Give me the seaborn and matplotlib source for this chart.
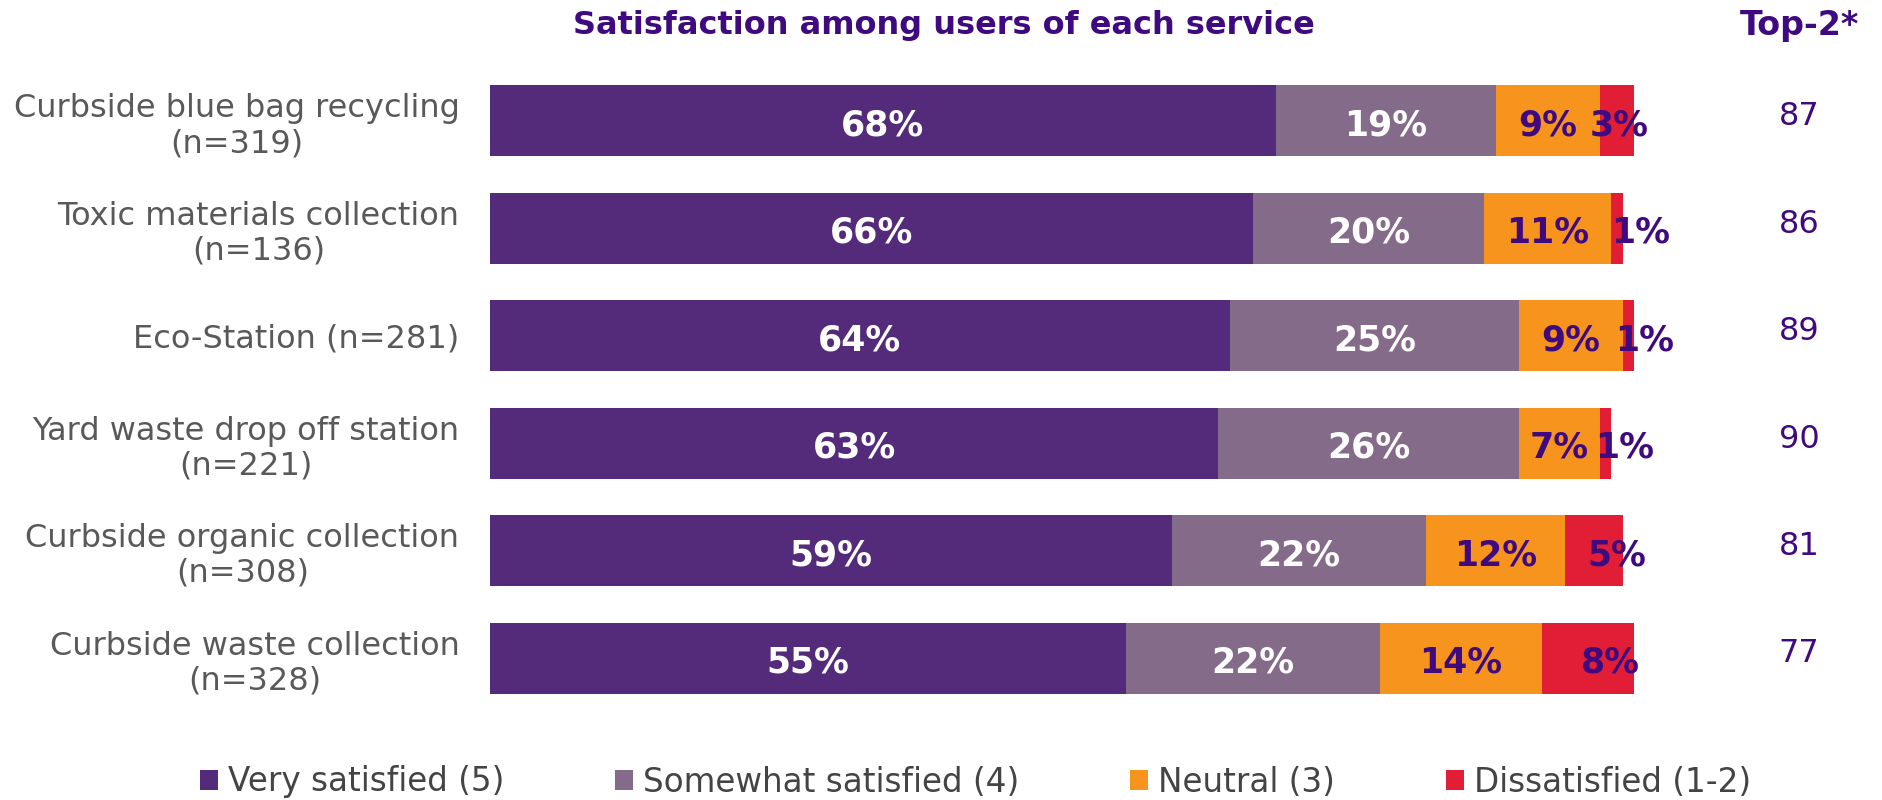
import numpy as np
import pandas as pd
import matplotlib
matplotlib.use("Agg")
import matplotlib.pyplot as plt
from matplotlib.patches import Patch
import seaborn as sns

# ---- data -------------------------------------------------------------
services = [
    "Curbside blue bag recycling\n(n=319)",
    "Toxic materials collection\n(n=136)",
    "Eco-Station (n=281)",
    "Yard waste drop off station\n(n=221)",
    "Curbside organic collection\n(n=308)",
    "Curbside waste collection\n(n=328)",
]
very_satisfied = [68, 66, 64, 63, 59, 55]
somewhat_satisfied = [19, 20, 25, 26, 22, 22]
neutral = [9, 11, 9, 7, 12, 14]
dissatisfied = [3, 1, 1, 1, 5, 8]
top2 = [87, 86, 89, 90, 81, 77]

legend_labels = ["Very satisfied (5)", "Somewhat satisfied (4)",
                 "Neutral (3)", "Dissatisfied (1-2)"]

# ---- style ------------------------------------------------------------
sns.set_style("white")
plt.rcParams["font.family"] = ["DejaVu Sans"]

colors = ["#542B7B", "#846B8A", "#F7941D", "#E21E36"]
label_colors = ["white", "white", "#3F0A7F", "#3F0A7F"]
purple_text = "#3F0A7F"
gray_text = "#595959"

df = pd.DataFrame({
    "service": services,
    "very": very_satisfied,
    "somewhat": somewhat_satisfied,
    "neutral": neutral,
    "dissat": dissatisfied,
})
parts = ["very", "somewhat", "neutral", "dissat"]
cum = df[parts].cumsum(axis=1)

fig = plt.figure(figsize=(18.83, 8.0), dpi=100)
ax = fig.add_axes([0.2602, 0.11, 0.6139, 0.806])

# stacked bars: draw cumulative totals from the largest down
for part, col in reversed(list(zip(parts, colors))):
    sns.barplot(x=cum[part], y=df["service"], orient="h", color=col,
                saturation=1, width=0.66, edgecolor="none", ax=ax)

ax.set_xlim(0, 100)
ax.set_ylim(5.5, -0.5)
ax.set_xlabel("")
ax.set_ylabel("")
ax.set_xticks([])
sns.despine(ax=ax, left=True, bottom=True)
ax.tick_params(axis="y", length=0, pad=22)
for lbl in ax.get_yticklabels():
    lbl.set_fontsize(23)
    lbl.set_color(gray_text)
    lbl.set_multialignment("center")
    lbl.set_linespacing(1.15)

# segment value labels
dissat_nudge = (0.2, 2.0, 1.4, 1.7, 2.0, 1.9)
for i in range(len(services)):
    start = 0
    for j, part in enumerate(parts):
        v = df[part].iloc[i]
        xc = start + v / 2
        if part == "dissat":
            xc += dissat_nudge[i]
        ax.text(xc, i + 0.04, f"{v}%", ha="center", va="center",
                fontsize=25, fontweight="bold", color=label_colors[j])
        start += v

# Top-2 column
trans = matplotlib.transforms.blended_transform_factory(fig.transFigure, ax.transData)
for i, t in enumerate(top2):
    ax.text(0.9555, i - 0.04, f"{t}", transform=trans, ha="center", va="center",
            fontsize=23, color=purple_text)

fig.text(0.501, 0.968, "Satisfaction among users of each service", ha="center",
         va="center", fontsize=23, fontweight="bold", color=purple_text)
fig.text(0.9555, 0.968, "Top-2*", ha="center", va="center", fontsize=24,
         fontweight="bold", color=purple_text)

handles = [Patch(facecolor=c, edgecolor="none") for c in colors]
leg = fig.legend(handles, legend_labels, loc="center", bbox_to_anchor=(0.518, 0.0225),
                 ncol=4, frameon=False, fontsize=23.5, handlelength=0.55,
                 handleheight=0.55, handletextpad=0.3, columnspacing=3.4,
                 borderaxespad=0)
for t in leg.get_texts():
    t.set_color("#444444")

fig.savefig("out.png", dpi=100, facecolor="white")
